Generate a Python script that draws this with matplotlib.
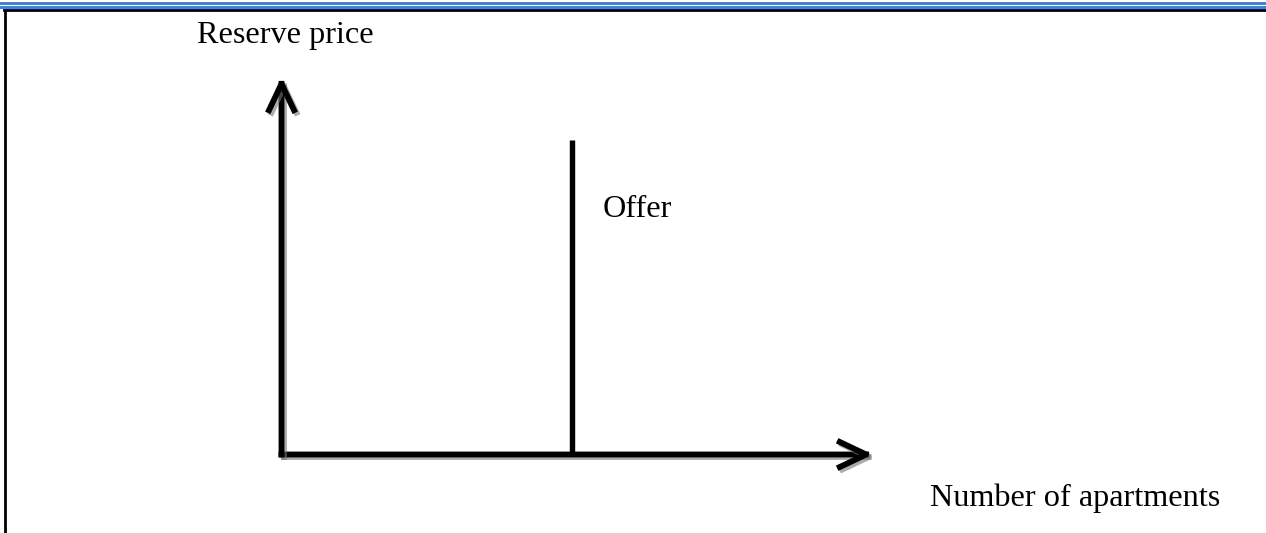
import matplotlib
matplotlib.use("Agg")
import matplotlib.pyplot as plt
import matplotlib.patheffects as pe
from matplotlib.lines import Line2D

# ---- data (diagram units) ----
x_max = 10.0            # quantity axis length
y_max = 10.0            # price axis length
offer_quantity = 4.91   # fixed supply (vertical "Offer" line)
offer_top = 8.33        # top of the offer line
y_label = "Reserve price"
x_label = "Number of apartments"
offer_label = "Offer"

W, H = 1266, 533
fig = plt.figure(figsize=(W / 100, H / 100), dpi=100)
fig.patch.set_facecolor("white")

def fx(px):
    return px / W

def fy(py):
    return 1 - py / H

# page border decorations (blue double rule + black frame)
for yy in (3.0, 6.8):
    fig.add_artist(Line2D([0, 1], [fy(yy), fy(yy)], transform=fig.transFigure,
                          color="#4A7CC4", lw=2.1))
fig.add_artist(Line2D([fx(4), 1], [fy(10.3), fy(10.3)], transform=fig.transFigure,
                      color="black", lw=2.0))
fig.add_artist(Line2D([fx(5), fx(5)], [fy(9.5), 0], transform=fig.transFigure,
                      color="black", lw=2.0, solid_capstyle="butt"))

# main diagram axes
ox, oy = 281.5, 454.5
ax = fig.add_axes([fx(ox), fy(oy), (873 - ox) / W, (oy - 77) / H])
ax.set_xlim(0, x_max)
ax.set_ylim(0, y_max)
ax.axis("off")

shadow = [pe.SimpleLineShadow(offset=(1.8, -1.8), shadow_color="0.45", alpha=0.6),
          pe.Normal()]

arrow_style = "->,head_length=0.95,head_width=0.45"
for xy in [(x_max, 0), (0, y_max)]:
    ax.annotate("", xy=xy, xytext=(0, 0),
                arrowprops=dict(arrowstyle=arrow_style, lw=4.2, color="black",
                                shrinkA=0, shrinkB=0, mutation_scale=20,
                                capstyle="projecting", joinstyle="round",
                                path_effects=shadow),
                annotation_clip=False)

ax.plot([offer_quantity, offer_quantity], [0, offer_top], color="black",
        lw=3.9, solid_capstyle="butt", clip_on=False)

font = dict(family="Liberation Serif", size=23.2, color="black")
fig.text(fx(197), fy(43), y_label, ha="left", va="baseline", **font)
fig.text(fx(603), fy(217), offer_label, ha="left", va="baseline", **font)
fig.text(fx(930), fy(506), x_label, ha="left", va="baseline", **font)

fig.savefig("out.png", dpi=100, facecolor="white")
